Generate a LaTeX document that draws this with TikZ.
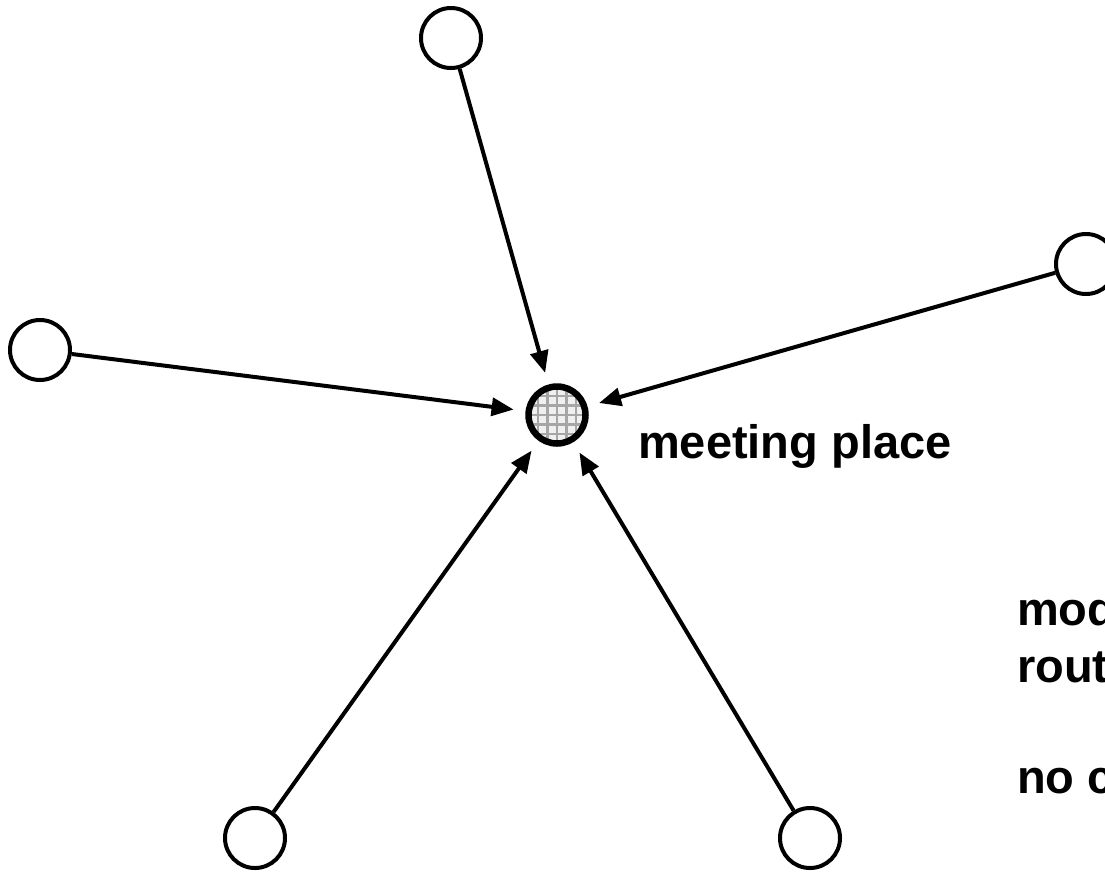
\documentclass[tikz,border=0pt]{standalone}
\usepackage{fontspec}
\setmainfont{Liberation Sans}
\usetikzlibrary{arrows.meta}
\begin{document}
\begin{tikzpicture}[x=1pt,y=-1pt,
  endpt/.style={circle,draw=black,line width=4pt,fill=white,inner sep=0pt,minimum size=60pt},
  hub/.style={circle,draw=black,line width=6.5pt,inner sep=0pt,minimum size=57pt},
  conn/.style={line width=4pt,-{Triangle[length=22pt,width=18pt]},shorten >=12pt},
  lbl/.style={inner sep=0pt,anchor=base west,font=\fontsize{47}{57}\selectfont\bfseries}]
\useasboundingbox (0,0) rectangle (1105,871);
\clip (0,0) rectangle (1105,871);
\fill[white] (0,0) rectangle (1105,871);
% hub fill with grid
\begin{scope}
  \clip (557,415) circle (29pt);
  \fill[gray!12] (520,380) rectangle (600,450);
  \foreach \k in {-4,...,4} {
    \draw[gray!70,line width=2.2pt] (557+\k*9.5,380) -- (557+\k*9.5,450);
    \draw[gray!70,line width=2.2pt] (520,415+\k*9.5) -- (600,415+\k*9.5);
  }
\end{scope}
\node[hub] (c) at (557,415) {};
\node[endpt] (n1) at (451,38) {};
\node[endpt] (n2) at (1086,264) {};
\node[endpt] (n3) at (40,350) {};
\node[endpt] (n4) at (255,838) {};
\node[endpt] (n5) at (810,838) {};
\draw[conn] (n1) -- (c);
\draw[conn] (n2) -- (c);
\draw[conn] (n3) -- (c);
\draw[conn] (n4) -- (c);
\draw[conn] (n5) -- (c);
\node[lbl] (mp) at (638,458) {meeting place};
\node[lbl] (t1) at (1017,625) {mod};
\node[lbl] (t2) at (1017,682) {rout};
\node[lbl] (t3) at (1017,793) {no c};
\end{tikzpicture}
\end{document}
